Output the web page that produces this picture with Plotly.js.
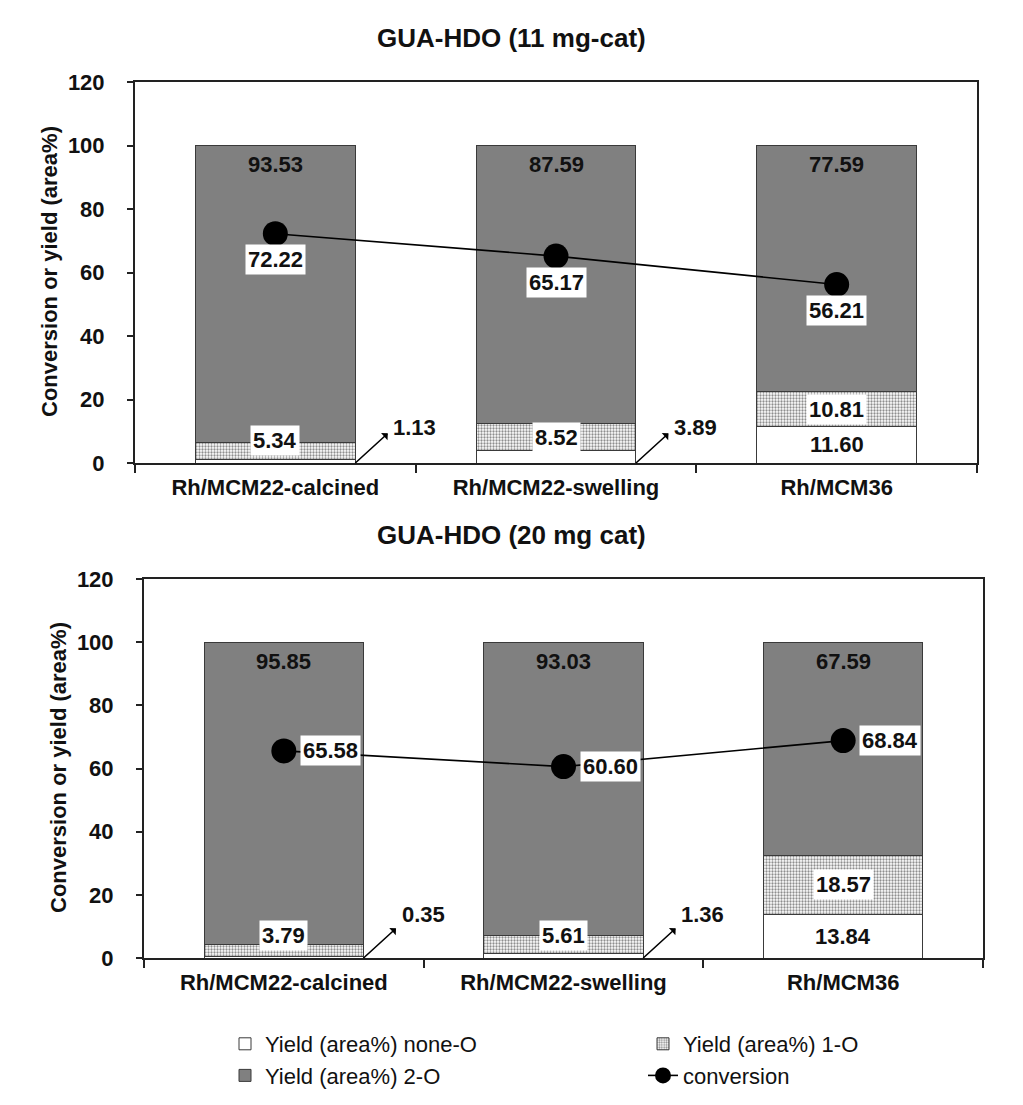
<!DOCTYPE html>
<html>
<head>
<meta charset="utf-8">
<script src="https://cdn.plot.ly/plotly-3.0.1.min.js"></script>
<style>html,body{margin:0;padding:0;background:#fff;}#chart{width:1023px;height:1105px;}</style>
</head>
<body>
<div id="chart"></div>
<script>
// ---- data ----
const categories = ['Rh/MCM22-calcined', 'Rh/MCM22-swelling', 'Rh/MCM36'];
const noneO_11 = [1.13, 3.89, 11.60];
const oneO_11  = [5.34, 8.52, 10.81];
const twoO_11  = [93.53, 87.59, 77.59];
const conv_11  = [72.22, 65.17, 56.21];
const noneO_20 = [0.35, 1.36, 13.84];
const oneO_20  = [3.79, 5.61, 18.57];
const twoO_20  = [95.85, 93.03, 67.59];
const conv_20  = [65.58, 60.60, 68.84];
const seriesNames = ['Yield (area%) none-O', 'Yield (area%) 1-O', 'Yield (area%) 2-O', 'conversion'];
const titles = ['GUA-HDO (11 mg-cat)', 'GUA-HDO (20 mg cat)'];
const yTitle = 'Conversion or yield (area%)';

// ---- style ----
const W = 1023, H = 1105;
const px = v => v / W;
const py = v => 1 - v / H;
const FONT = 'Liberation Sans, Arial, sans-serif';
const INK = '#111111';
const BAR_HALF = 0.285;

function barTraces(none, one, two, xa, ya, show) {
  const common = {type: 'bar', x: categories, xaxis: xa, yaxis: ya, showlegend: show, hoverinfo: 'skip'};
  return [
    Object.assign({}, common, {name: seriesNames[0], y: none, legend: 'legend',
      marker: {color: '#ffffff', line: {color: '#3a3a3a', width: 1}}}),
    Object.assign({}, common, {name: seriesNames[1], y: one, legend: 'legend2',
      marker: {color: '#ffffff', line: {color: '#3a3a3a', width: 1},
        pattern: {shape: '.', size: 3, solidity: 0.45, fgcolor: '#8e8e8e', bgcolor: '#ffffff'}}}),
    Object.assign({}, common, {name: seriesNames[2], y: two, legend: 'legend',
      marker: {color: '#808080', line: {color: '#3a3a3a', width: 1}}})
  ];
}
function convTrace(conv, xa, ya, show) {
  return {type: 'scatter', mode: 'lines+markers', name: seriesNames[3], x: categories, y: conv,
    xaxis: xa, yaxis: ya, showlegend: show, hoverinfo: 'skip', legend: 'legend2',
    line: {color: '#000000', width: 1.6}, marker: {color: '#000000', size: 25}};
}

const data = [].concat(
  barTraces(noneO_11, oneO_11, twoO_11, 'x', 'y', true),
  [convTrace(conv_11, 'x', 'y', true)],
  barTraces(noneO_20, oneO_20, twoO_20, 'x2', 'y2', false),
  [convTrace(conv_20, 'x2', 'y2', false)]
);

const lblFont = {family: FONT, size: 22, color: INK, weight: 'bold'};
const annotations = [];

function addLabels(none, one, two, conv, xa, ya, convMode, smallShift) {
  for (let i = 0; i < categories.length; i++) {
    const total = none[i] + one[i] + two[i];
    // 2-O label near top of bar
    annotations.push({xref: xa, yref: ya, x: categories[i], y: total, text: two[i].toFixed(2),
      showarrow: false, yanchor: 'top', yshift: -5, font: lblFont});
    // 1-O label (white box)
    const c1 = Math.max(none[i] + one[i] / 2, 7);
    annotations.push({xref: xa, yref: ya, x: categories[i], y: c1, text: one[i].toFixed(2),
      showarrow: false, yanchor: 'middle', bgcolor: '#ffffff', borderpad: 2, font: lblFont});
    // none-O label
    if (none[i] >= 5) {
      annotations.push({xref: xa, yref: ya, x: categories[i], y: none[i] / 2, text: none[i].toFixed(2),
        showarrow: false, yanchor: 'middle', font: lblFont});
    } else {
      annotations.push({xref: xa, yref: ya, x: i + BAR_HALF, y: 0, text: '',
        showarrow: true, arrowside: 'start', arrowhead: 2, arrowsize: 1.1, arrowwidth: 1.6,
        arrowcolor: '#000', ax: 34, ay: -31});
      annotations.push({xref: xa, yref: ya, x: i + BAR_HALF, y: 0, text: none[i].toFixed(2),
        showarrow: false, xanchor: 'left', yanchor: 'middle', xshift: 36, yshift: smallShift, font: lblFont});
    }
    // conversion label
    if (convMode === 'below') {
      annotations.push({xref: xa, yref: ya, x: categories[i], y: conv[i], text: conv[i].toFixed(2),
        showarrow: false, yanchor: 'middle', yshift: -26, bgcolor: '#ffffff', borderpad: 2, font: lblFont});
    } else {
      annotations.push({xref: xa, yref: ya, x: categories[i], y: conv[i], text: conv[i].toFixed(2),
        showarrow: false, xanchor: 'left', yanchor: 'middle', xshift: 16, bgcolor: '#ffffff', borderpad: 2, font: lblFont});
    }
  }
}
addLabels(noneO_11, oneO_11, twoO_11, conv_11, 'x', 'y', 'below', 35);
addLabels(noneO_20, oneO_20, twoO_20, conv_20, 'x2', 'y2', 'right', 44);

// titles
annotations.push({xref: 'paper', yref: 'paper', x: 0.5, y: py(38), text: titles[0], showarrow: false,
  xanchor: 'center', yanchor: 'middle', font: {family: FONT, size: 26, color: INK, weight: 'bold'}});
annotations.push({xref: 'paper', yref: 'paper', x: 0.5, y: py(535), text: titles[1], showarrow: false,
  xanchor: 'center', yanchor: 'middle', font: {family: FONT, size: 26, color: INK, weight: 'bold'}});
annotations.push({xref: 'paper', yref: 'paper', x: px(49), y: py(272), text: yTitle, showarrow: false,
  textangle: -90, xanchor: 'center', yanchor: 'middle', font: {family: FONT, size: 22, color: INK, weight: 'bold'}});
annotations.push({xref: 'paper', yref: 'paper', x: px(58), y: py(768), text: yTitle, showarrow: false,
  textangle: -90, xanchor: 'center', yanchor: 'middle', font: {family: FONT, size: 22, color: INK, weight: 'bold'}});

const tickFont = {family: FONT, size: 22, color: INK, weight: 'bold'};
function xAxis(domain, anchor) {
  return {domain: domain, anchor: anchor, type: 'category', tickson: 'boundaries', ticks: 'outside',
    ticklen: 8, tickwidth: 2, tickcolor: '#222', showline: true, mirror: true, linecolor: '#222', linewidth: 2,
    showgrid: false, zeroline: false, tickfont: tickFont, ticklabelstandoff: 4, fixedrange: true};
}
function yAxis(domain, anchor) {
  return {domain: domain, anchor: anchor, range: [0, 120], dtick: 20, ticks: 'outside', ticklen: 6,
    tickwidth: 2, tickcolor: '#222', showline: true, mirror: true, linecolor: '#222', linewidth: 2,
    showgrid: false, zeroline: false, tickfont: tickFont, ticklabelstandoff: 18, fixedrange: true};
}
const legendFont = {family: FONT, size: 22, color: INK};

const layout = {
  width: W, height: H,
  margin: {l: 0, r: 0, t: 0, b: 0},
  paper_bgcolor: '#ffffff', plot_bgcolor: '#ffffff',
  font: {family: FONT, color: INK},
  barmode: 'stack', bargap: 0.43,
  xaxis: xAxis([px(135), px(977)], 'y'),
  yaxis: yAxis([py(463), py(82)], 'x'),
  xaxis2: xAxis([px(144), px(983)], 'y2'),
  yaxis2: yAxis([py(958), py(579)], 'x2'),
  showlegend: true,
  legend: {orientation: 'v', traceorder: 'normal', x: px(225), y: py(1023), xanchor: 'left', yanchor: 'top',
    font: legendFont, bgcolor: 'rgba(0,0,0,0)'},
  legend2: {orientation: 'v', traceorder: 'normal', x: px(643), y: py(1023), xanchor: 'left', yanchor: 'top',
    font: legendFont, bgcolor: 'rgba(0,0,0,0)'},
  annotations: annotations
};

Plotly.newPlot('chart', data, layout, {staticPlot: true, displayModeBar: false});
</script>
</body>
</html>
